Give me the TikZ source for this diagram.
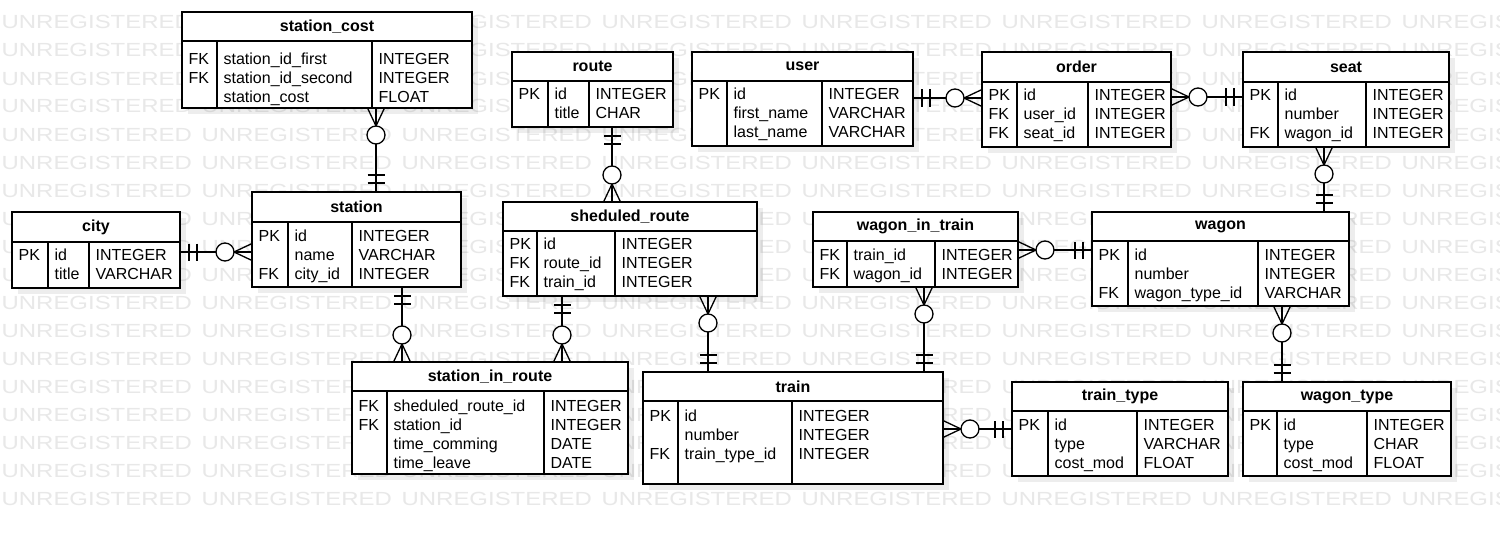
\documentclass[tikz,border=0pt]{standalone}
\usepackage{fontspec}
\setmainfont{Liberation Sans}
\usetikzlibrary{calc,fit,decorations.markings}

% table frame: name, x1, y1, x2, y2, header line, column 1, column 2, title
\newcommand{\ertable}[9]{%
  \fill[tblshadow] ({#2+6},{#3+6}) rectangle ({#4+6},{#5+6});
  \node[tbl, fit={(#2,#3) (#4,#5)}] (#1) {};
  \draw (#2,#6) -- (#4,#6) (#7,#6) -- (#7,#5) (#8,#6) -- (#8,#5);
  \node[ttl] (#1-ttl) at ({(#2+#4)/2},{(#3+#6)/2}) {#9};}
% table rows: name, x1, column 1, column 2, first baseline, keys, fields, types
\newcommand{\errows}[8]{%
  \node[fld] (#1-key)  at ({#2+6},{#5-13}) {\rowstrut#6};
  \node[fld] (#1-name) at ({#3+6},{#5-13}) {\rowstrut#7};
  \node[fld] (#1-type) at ({#4+6},{#5-13}) {\rowstrut#8};}
\newcommand{\rowstrut}{\rule{0pt}{13pt}}

\begin{document}
\begin{tikzpicture}[x=1pt, y=-1pt, line width=1.3pt,
    tbl/.style={draw, fill=white, inner sep=0pt, outer sep=0pt},
    tblshadow/.style={fill=black, fill opacity=0.07},
    ttl/.style={inner sep=0pt, font=\bfseries\fontsize{16}{19}\selectfont},
    fld/.style={anchor=north west, align=left, inner sep=0pt,
                font=\fontsize{16}{18.8}\selectfont},
    wmark/.style={anchor=base west, inner sep=0pt, text=black!9,
                  font=\fontsize{19}{19}\selectfont},
    rel/.style={postaction={decorate, decoration={markings,
        mark=at position 0 with {\draw (0,8.5) -- (18,0) -- (0,-8.5);
                                 \draw[fill=white] (27,0) circle (9);},
        mark=at position 1 with {\draw (-9,8.5) -- (-9,-8.5) (-17,8.5) -- (-17,-8.5);}}}}]

  \useasboundingbox (0,0) rectangle (1500,535);
  \fill[white] (0,0) rectangle (1500,535);

  %--- Watermark -----------------------------------------------------------
  \foreach \r in {0,...,17}
    \foreach \c in {0,...,7}
      \node[wmark] (wm-\r-\c) at ({1+200*\c},{29+28*\r})
           {\scalebox{1.26}[1]{UNREGISTERED}};

  %--- Tables --------------------------------------------------------------
  \ertable{stationcost}{182}{12}{472}{108}{41}{217}{372}{station\_cost}
  \errows{stationcost}{182}{217}{372}{64}{FK\\FK}
         {station\_id\_first\\station\_id\_second\\station\_cost}{INTEGER\\INTEGER\\FLOAT}

  \ertable{city}{12}{212}{180}{288}{242}{48}{89}{city}
  \errows{city}{12}{48}{89}{260}{PK}{id\\title}{INTEGER\\VARCHAR}

  \ertable{station}{252}{192}{461}{287}{222}{288}{352}{station}
  \errows{station}{252}{288}{352}{241}{PK\\{}\\FK}
         {id\\name\\city\_id}{INTEGER\\VARCHAR\\INTEGER}

  \ertable{route}{512}{52}{673}{127}{81}{548}{589}{route}
  \errows{route}{512}{548}{589}{99}{PK}{id\\title}{INTEGER\\CHAR}

  \ertable{user}{692}{52}{913}{146}{81}{727}{822}{user}
  \errows{user}{692}{727}{822}{99}{PK}
         {id\\first\_name\\last\_name}{INTEGER\\VARCHAR\\VARCHAR}

  \ertable{order}{982}{52}{1171}{147}{82}{1017}{1088}{order}
  \errows{order}{982}{1017}{1088}{100}{PK\\FK\\FK}
         {id\\user\_id\\seat\_id}{INTEGER\\INTEGER\\INTEGER}

  \ertable{seat}{1243}{52}{1449}{147}{82}{1278}{1366}{seat}
  \errows{seat}{1243}{1278}{1366}{100}{PK\\{}\\FK}
         {id\\number\\wagon\_id}{INTEGER\\INTEGER\\INTEGER}

  \ertable{schroute}{503}{202}{757}{296}{231}{537}{615}{sheduled\_route}
  \errows{schroute}{503}{537}{615}{249}{PK\\FK\\FK}
         {id\\route\_id\\train\_id}{INTEGER\\INTEGER\\INTEGER}

  \ertable{wagintrain}{813}{212}{1018}{287}{241}{847}{935}{wagon\_in\_train}
  \errows{wagintrain}{813}{847}{935}{260}{FK\\FK}
         {train\_id\\wagon\_id}{INTEGER\\INTEGER}

  \ertable{wagon}{1092}{212}{1349}{306}{241}{1128}{1258}{wagon}
  \errows{wagon}{1092}{1128}{1258}{260}{PK\\{}\\FK}
         {id\\number\\wagon\_type\_id}{INTEGER\\INTEGER\\VARCHAR}

  \ertable{stinroute}{352}{362}{628}{474}{391}{387}{544}{station\_in\_route}
  \errows{stinroute}{352}{387}{544}{411}{FK\\FK}
         {sheduled\_route\_id\\station\_id\\time\_comming\\time\_leave}
         {INTEGER\\INTEGER\\DATE\\DATE}

  \ertable{train}{643}{372}{943}{484}{401}{678}{792}{train}
  \errows{train}{643}{678}{792}{421}{PK\\{}\\FK}
         {id\\number\\train\_type\_id}{INTEGER\\INTEGER\\INTEGER}

  \ertable{traintype}{1012}{382}{1228}{476}{411}{1048}{1137}{train\_type}
  \errows{traintype}{1012}{1048}{1137}{430}{PK}
         {id\\type\\cost\_mod}{INTEGER\\VARCHAR\\FLOAT}

  \ertable{wagtype}{1243}{382}{1451}{476}{411}{1277}{1367}{wagon\_type}
  \errows{wagtype}{1243}{1277}{1367}{430}{PK}
         {id\\type\\cost\_mod}{INTEGER\\CHAR\\FLOAT}

  %--- Relations (many side first, one side last) --------------------------
  \draw[rel] (stationcost.south -| 376,0) -- (station.north -| 376,0);
  \draw[rel] (station.west |- 0,252)      -- (city.east |- 0,252);
  \draw[rel] (stinroute.north -| 402,0)   -- (station.south -| 402,0);
  \draw[rel] (schroute.north -| 612,0)    -- (route.south -| 612,0);
  \draw[rel] (stinroute.north -| 562,0)   -- (schroute.south -| 562,0);
  \draw[rel] (schroute.south -| 708,0)    -- (train.north -| 708,0);
  \draw[rel] (order.west |- 0,98)         -- (user.east |- 0,98);
  \draw[rel] (order.east |- 0,97)         -- (seat.west |- 0,97);
  \draw[rel] (seat.south -| 1324,0)       -- (wagon.north -| 1324,0);
  \draw[rel] (wagintrain.east |- 0,250)   -- (wagon.west |- 0,250);
  \draw[rel] (wagintrain.south -| 924,0)  -- (train.north -| 924,0);
  \draw[rel] (wagon.south -| 1282,0)      -- (wagtype.north -| 1282,0);
  \draw[rel] (train.east |- 0,429)        -- (traintype.west |- 0,429);

\end{tikzpicture}
\end{document}
